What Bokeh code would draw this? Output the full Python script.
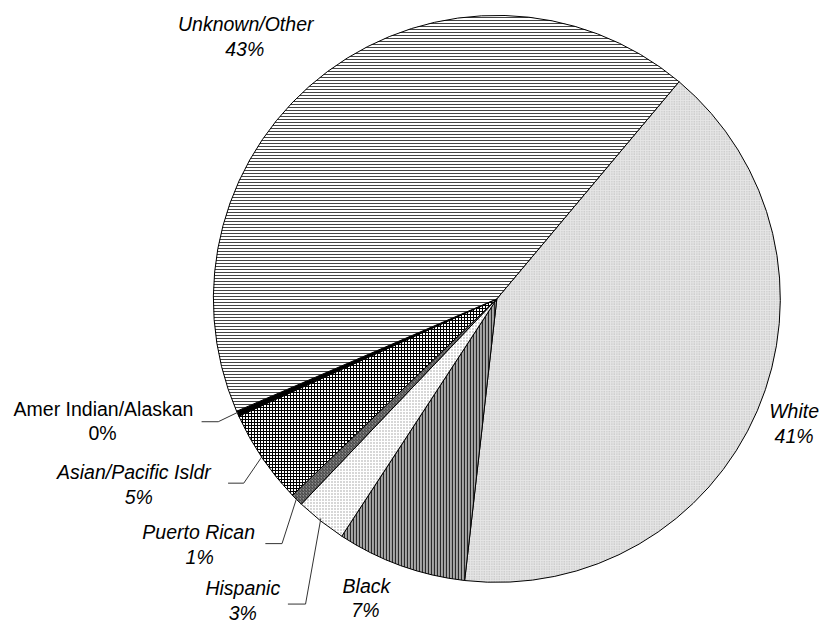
import numpy as np
from bokeh.plotting import figure
from bokeh.models import Range1d
from bokeh.core.properties import value
from bokeh.embed import file_html
from bokeh.resources import INLINE

# ---- data (clockwise from the White/Unknown boundary) ----
categories = ["White", "Black", "Hispanic", "Puerto Rican",
              "Asian/Pacific Isldr", "Amer Indian/Alaskan", "Unknown/Other"]
shares = [40.7, 7.4, 2.9, 0.7, 5.4, 0.3, 42.6]
pct_labels = [f"{round(v)}%" for v in shares]

# ---- styles ----
fills = ["#e6e6e6", "#a8a8a8", "#ffffff", "#8c8c8c", "#ffffff", "#000000", "#ffffff"]
hatches = ["dot", "vertical_line", "dot", "right_diagonal_line", "cross", " ", "horizontal_line"]
hatch_colors = ["#b4b4b4", "#2a2a2a", "#9a9a9a", "#3c3c3c", "#000000", "#000000", "#444444"]
hatch_scales = [2.5, 3.0, 3.0, 3.0, 3.0, 3.0, 3.0]
hatch_weights = [1.0, 1.2, 1.0, 1.0, 1.0, 1.0, 1.0]

W, H = 838, 642
def Y(sy):
    return H - sy

cx, cy, R = 506, Y(306), 289
start_deg = 50.0

vals = np.array(shares, dtype=float)
frac = vals / vals.sum()
cum = np.concatenate([[0.0], np.cumsum(frac)])
a_from = np.deg2rad(start_deg - 360.0 * cum[:-1])
a_to = np.deg2rad(start_deg - 360.0 * cum[1:])
mid = (a_from + a_to) / 2

p = figure(width=822, height=626, min_border=0, toolbar_location=None,
           output_backend="svg", x_axis_location=None, y_axis_location=None,
           x_range=Range1d(0, W), y_range=Range1d(0, H))
p.grid.visible = False
p.outline_line_color = None
p.background_fill_color = "white"
p.border_fill_color = "white"

p.wedge(x=[cx] * len(vals), y=[cy] * len(vals), radius=R,
        start_angle=list(a_to), end_angle=list(a_from), direction="anticlock",
        fill_color=fills, line_color="black", line_width=1,
        hatch_pattern=hatches, hatch_color=hatch_colors,
        hatch_scale=hatch_scales, hatch_weight=hatch_weights)

# ---- leader lines for the small slices (index: label-side start x, elbow x, y) ----
leaders = {5: (205, 222, 432), 4: (232, 248, 495), 3: (270, 287, 557), 2: (293, 311, 619)}
xs, ys = [], []
for i, (x0, x1, sy) in leaders.items():
    ex = cx + R * np.cos(mid[i])
    ey = cy + R * np.sin(mid[i]) * (626 / 642) / (822 / 838)
    xs.append([x0, x1, ex])
    ys.append([Y(sy), Y(sy), ey])
p.multi_line(xs=xs, ys=ys, line_color="#333333", line_width=1)

# ---- labels ----
label_pos = {
    0: ((809, 421), (809, 447)),
    1: ((373, 600), (372, 625)),
    2: ((247, 603), (247, 628)),
    3: ((202, 545), (203, 571)),
    4: ((136, 484), (141, 509)),
    5: ((105, 419), (104, 444)),
    6: ((250, 24), (249, 50)),
}
for i, ((x1, y1), (x2, y2)) in label_pos.items():
    style = "normal" if i == 5 else "italic"
    p.text(x=[x1, x2], y=[Y(y1), Y(y2)], text=[categories[i], pct_labels[i]],
           text_font=value("Liberation Sans"), text_font_size="19.5px",
           text_font_style=style, text_color="black",
           text_align="center", text_baseline="middle")

open("out.html", "w").write(file_html(p, INLINE))
